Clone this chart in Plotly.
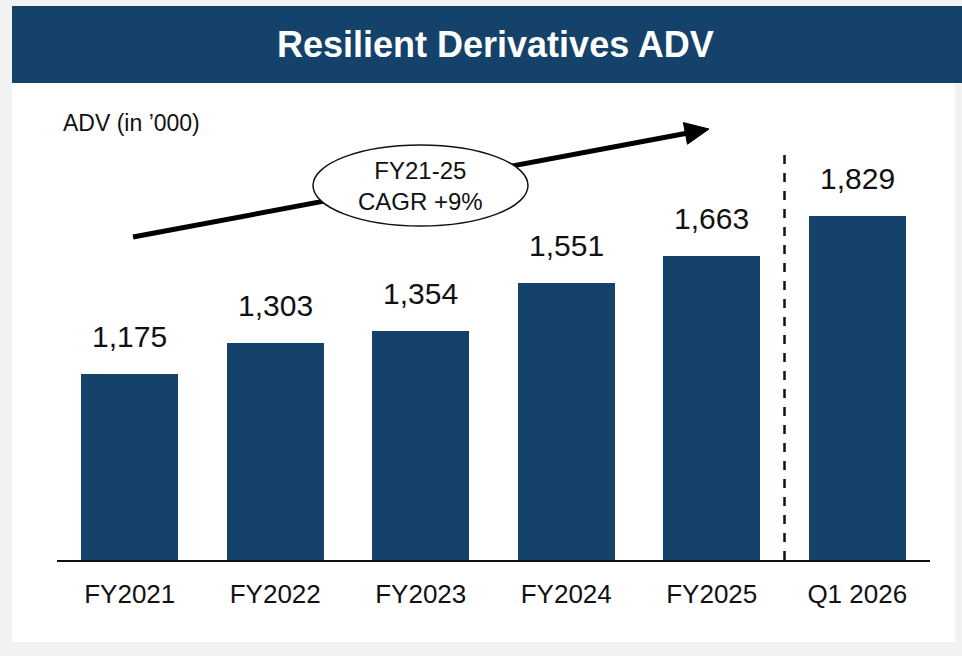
import math
import plotly.graph_objects as go

categories = ["FY2021", "FY2022", "FY2023", "FY2024", "FY2025", "Q1 2026"]
adv_values = [1175, 1303, 1354, 1551, 1663, 1829]
value_labels = ["1,175", "1,303", "1,354", "1,551", "1,663", "1,829"]
title_text = "Resilient Derivatives ADV"
unit_text = "ADV (in \u2019000)"
cagr_text = "FY21-25<br>CAGR +9%"

W, H = 962, 656
L, R, T, B = 57, 930, 100, 560  # plot area in pixels

def px(x):
    return (x - L) / (R - L)

def py(y):
    return (B - y) / (B - T)

BAR = "#15426a"
FONT = "Liberation Sans, Arial, sans-serif"
INK = "#111111"

fig = go.Figure()
fig.add_trace(go.Bar(
    x=list(range(len(categories))), y=adv_values,
    marker=dict(color=BAR, line=dict(width=0)),
    width=0.665, hoverinfo="skip", showlegend=False,
))

for i, (v, lab) in enumerate(zip(adv_values, value_labels)):
    fig.add_annotation(x=i, y=v, xref="x", yref="y", text=lab, showarrow=False,
                       xanchor="center", yanchor="bottom", yshift=19,
                       font=dict(family=FONT, size=30, color=INK))

# growth arrow geometry (pixels)
a0 = (133, 237)
tip = (709, 129)
dx, dy = tip[0] - a0[0], tip[1] - a0[1]
ln = math.hypot(dx, dy)
ux, uy = dx / ln, dy / ln
nx, ny = -uy, ux
head_len, head_half = 24, 11
bc = (tip[0] - head_len * ux, tip[1] - head_len * uy)
c1 = (bc[0] + head_half * nx, bc[1] + head_half * ny)
c2 = (bc[0] - head_half * nx, bc[1] - head_half * ny)
line_end = (bc[0] + 4 * ux, bc[1] + 4 * uy)
head_path = "M {} {} L {} {} L {} {} Z".format(px(tip[0]), py(tip[1]), px(c1[0]), py(c1[1]),
                                                  px(c2[0]), py(c2[1]))

shapes = [
    dict(type="rect", xref="paper", yref="paper", x0=px(12), x1=px(955), y0=py(642), y1=py(83),
         fillcolor="#ffffff", line=dict(width=0), layer="below"),
    dict(type="rect", xref="paper", yref="paper", x0=px(12), x1=px(962), y0=py(83), y1=py(6),
         fillcolor=BAR, line=dict(width=0), layer="below"),
    dict(type="line", xref="x", yref="paper", x0=4.5, x1=4.5, y0=0, y1=py(148),
         line=dict(color=INK, width=2.5, dash="dash")),
    dict(type="line", xref="paper", yref="paper", x0=px(a0[0]), y0=py(a0[1]),
         x1=px(line_end[0]), y1=py(line_end[1]), line=dict(color="#000000", width=5)),
    dict(type="path", xref="paper", yref="paper", path=head_path,
         fillcolor="#000000", line=dict(color="#000000", width=1)),
    dict(type="circle", xref="paper", yref="paper", x0=px(313), x1=px(528), y0=py(226), y1=py(145),
         fillcolor="#ffffff", line=dict(color=INK, width=1.5)),
]
fig.update_layout(shapes=shapes)

fig.add_annotation(xref="paper", yref="paper", x=px(420), y=py(186), text=cagr_text,
                   showarrow=False, xanchor="center", yanchor="middle",
                   font=dict(family=FONT, size=24, color=INK), align="center")
fig.add_annotation(xref="paper", yref="paper", x=px(61), y=py(123), xanchor="left", yanchor="middle",
                   text=unit_text, showarrow=False,
                   font=dict(family=FONT, size=23, color=INK))
fig.add_annotation(xref="paper", yref="paper", x=px(495), y=py(45), xanchor="center", yanchor="middle",
                   text="<b>" + title_text + "</b>", showarrow=False,
                   font=dict(family=FONT, size=36, color="#ffffff"))

fig.update_layout(
    width=W, height=H,
    margin=dict(l=L, r=W - R, t=T, b=H - B, pad=0),
    paper_bgcolor="#f2f2f2", plot_bgcolor="rgba(0,0,0,0)",
    xaxis=dict(range=[-0.5, 5.5], tickmode="array", tickvals=list(range(len(categories))),
               ticktext=categories, showgrid=False, zeroline=False, showline=True,
               linecolor=INK, linewidth=1.5, ticks="", ticklabelstandoff=10,
               tickfont=dict(family=FONT, size=26, color=INK), fixedrange=True),
    yaxis=dict(range=[405, 2310], visible=False, showgrid=False, fixedrange=True),
    bargap=0,
)

fig.write_html("out.html", config={"displayModeBar": False},
               post_script="document.body.style.margin='0';document.body.style.background='#f2f2f2';")
